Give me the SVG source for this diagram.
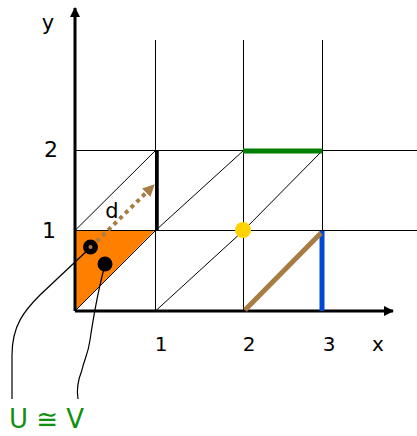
<svg xmlns="http://www.w3.org/2000/svg" width="417" height="436" viewBox="0 0 417 436">
<defs>
<style>
.grid{stroke:#000;stroke-width:1;fill:none}
.axis{stroke:#000;stroke-width:3;fill:none}
.lbl{font-family:"DejaVu Sans",Verdana,sans-serif;fill:#000}
.curve{stroke:#000;stroke-width:1.2;fill:none}
</style>
<marker id="ah" viewBox="0 0 10 10" refX="9" refY="5" markerWidth="3.5" markerHeight="3.5" orient="auto" markerUnits="strokeWidth">
<path d="M0,0 L10,5 L0,10 Z" fill="#000"/>
</marker>
<marker id="ahb" viewBox="0 0 10 10" refX="8" refY="5" markerWidth="3" markerHeight="3" orient="auto" markerUnits="strokeWidth">
<path d="M0,0 L10,5 L0,10 Z" fill="#a77c45"/>
</marker>
</defs>
<rect width="417" height="436" fill="#fff"/>
<g id="orange-triangle"><polygon points="75,230 155,230 75,311" fill="#ff8000"/></g>
<g id="grid">
<line class="grid" x1="155.5" y1="40" x2="155.5" y2="311"/>
<line class="grid" x1="243.5" y1="40" x2="243.5" y2="311"/>
<line class="grid" x1="322.5" y1="40" x2="322.5" y2="311"/>
<line class="grid" x1="75" y1="150.5" x2="417" y2="150.5"/>
<line class="grid" x1="75" y1="230.5" x2="417" y2="230.5"/>
<line class="grid" x1="75" y1="230.5" x2="155.5" y2="150.5"/>
<line class="grid" x1="155.5" y1="230.5" x2="243.5" y2="150.5"/>
<line class="grid" x1="243.5" y1="230.5" x2="322.5" y2="150.5"/>
<line class="grid" x1="75" y1="311" x2="155.5" y2="230.5"/>
<line class="grid" x1="155.5" y1="311" x2="243.5" y2="230.5"/>
</g>
<g id="connectors">
<line class="axis" x1="75" y1="311" x2="75" y2="8" marker-end="url(#ah)"/>
<line class="axis" x1="75" y1="311" x2="393" y2="311" marker-end="url(#ah)"/>
<line x1="157" y1="150" x2="157" y2="230" stroke="#000" stroke-width="3.5"/>
<line x1="243" y1="151" x2="322" y2="151" stroke="#008000" stroke-width="5"/>
<line x1="322" y1="231" x2="322" y2="311" stroke="#0047d6" stroke-width="5"/>
<line x1="245" y1="310" x2="321" y2="233" stroke="#a77c45" stroke-width="5"/>
<line x1="91" y1="247" x2="153" y2="186" stroke="#a77c45" stroke-width="4" stroke-dasharray="4,4" marker-end="url(#ahb)"/>
<path class="curve" d="M91,247 L40,295 C25,310 12,325 12,355 L12,399"/>
<path class="curve" d="M105,265 C98,290 93,320 90,340 C88,355 84,360 82,370 C78,380 76,388 78,399"/>
</g>
<g id="yellow-dot"><circle cx="243" cy="230" r="8" fill="#ffd400"/></g>
<g id="dot-u"><circle cx="90.5" cy="247" r="7.5" fill="#000"/><circle cx="90.5" cy="247" r="2" fill="#a77c45"/></g>
<g id="dot-v"><circle cx="105" cy="264" r="7.5" fill="#000"/></g>
<g id="labels">
<text class="lbl" x="48" y="30" font-size="21" text-anchor="middle">y</text>
<text class="lbl" x="51" y="157" font-size="22" text-anchor="middle">2</text>
<text class="lbl" x="49" y="238" font-size="22" text-anchor="middle">1</text>
<text class="lbl" x="161" y="351" font-size="20" text-anchor="middle">1</text>
<text class="lbl" x="249" y="351" font-size="20" text-anchor="middle">2</text>
<text class="lbl" x="329" y="351" font-size="20" text-anchor="middle">3</text>
<text class="lbl" x="378" y="351" font-size="20" text-anchor="middle">x</text>
<text class="lbl" x="112" y="218" font-size="21" text-anchor="middle">d</text>
<text class="lbl" x="9" y="428" font-size="26" style="fill:#129012">U ≅ V</text>
</g>
</svg>
